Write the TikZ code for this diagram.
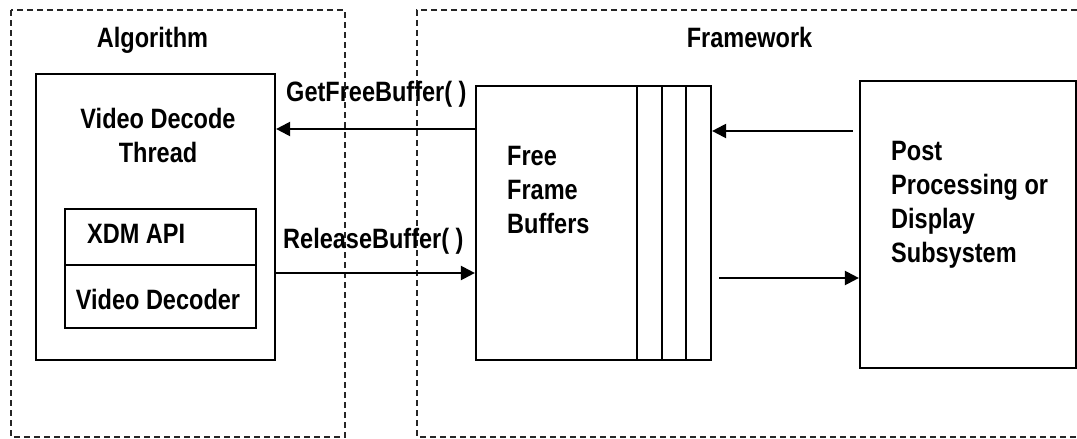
\documentclass[tikz,border=0pt]{standalone}
\usepackage{fontspec}
\setmainfont{Liberation Sans}[FakeStretch=0.84]
\usetikzlibrary{arrows.meta, positioning}
\tikzset{
  box/.style={draw, line width=2.2pt, inner sep=0pt},
  frame/.style={draw=black!85, line width=1.4pt, dash pattern=on 6pt off 4pt},
  lbl/.style={inner sep=0pt, font=\fontsize{28}{33.7}\selectfont\bfseries},
}

\begin{document}
\begin{tikzpicture}[x=1pt, y=-1pt, > = {Triangle[length=14pt, width=14pt]}]
			\useasboundingbox (0,0) rectangle (1077,439);
			\draw [frame] (11,10) rectangle (345,437);
			\draw [frame] (1077,10) -- (417,10) -- (417,437) -- (1077,437);
			\node [lbl, anchor=base] (alg) at (152.5,47) {Algorithm};
			\node [lbl, anchor=base] (fw) at (749.5,47) {Framework};
			
			\node [box, minimum width=239pt, minimum height=286pt] (thread) at (155.5,217) {};
			\node [lbl, align=center, anchor=north] (threadtxt) at (158,108.5) {Video Decode\\Thread};
			\node [box, minimum width=191pt, minimum height=56pt] (xdm) at (160.5,237) {};
			\node [lbl, anchor=base west] (xdmtxt) at (87,243) {XDM API};
			\node [box, minimum width=191pt, minimum height=63pt] (dec) at (160.5,296.5) {};
			\node [lbl, anchor=base] (dectxt) at (158,309) {Video Decoder};
			
			\node [box, minimum width=235pt, minimum height=274pt] (buf) at (593.5,223) {};
			\foreach \x in {637, 662, 686}
				\draw [line width=1.8pt] (\x,86) -- (\x,360);
			\node [lbl, align=left, anchor=north west] (buftxt) at (507,146.5) {Free\\Frame\\Buffers};
			
			\node [box, minimum width=216pt, minimum height=287pt] (post) at (968,224.5) {};
			\node [lbl, align=left, anchor=north west] (posttxt) at (891,141.5) {Post\\Processing or\\Display\\Subsystem};
			
			\draw [->, line width=2.2pt] (buf.west |- 0,129) -- (thread.east |- 0,129);
			\draw [->, line width=2.2pt] (thread.east |- 0,273) -- (buf.west |- 0,273);
			\draw [->, line width=2.2pt] ([xshift=-6pt]post.west |- 0,131) -- (buf.east |- 0,131);
			\draw [->, line width=2.2pt] ([xshift=7pt]buf.east |- 0,278) -- (post.west |- 0,278);
			\node [lbl, anchor=base west] (getbuf) at (286,101) {GetFreeBuffer( )};
			\node [lbl, anchor=base west] (relbuf) at (283,248) {ReleaseBuffer( )};
		\end{tikzpicture}
\end{document}
